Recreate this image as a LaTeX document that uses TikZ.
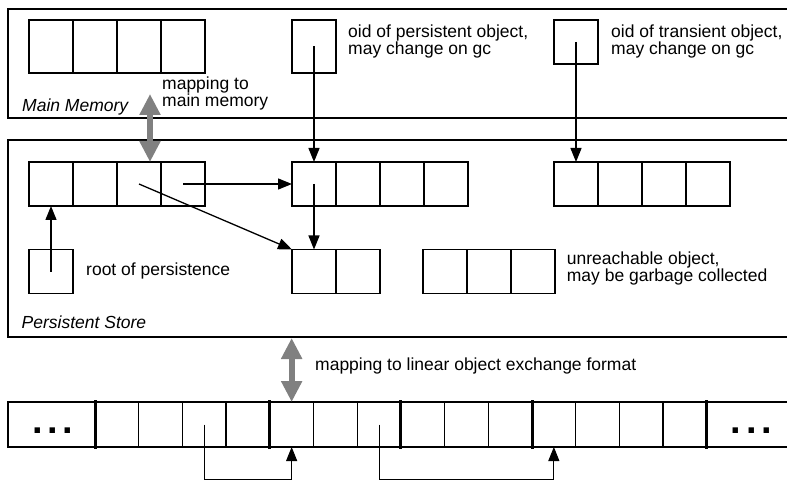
\documentclass[tikz,border=0pt]{standalone}
\usepackage{fontspec}
\setmainfont{Liberation Sans}
\usetikzlibrary{positioning, arrows.meta}

\begin{document}
\begin{tikzpicture}[
x=1pt, y=-1pt,
font=\fontsize{17.5}{17}\selectfont,
frame/.style={draw, line width=1.4pt, anchor=north west, inner sep=0pt, outer sep=0pt},
cell/.style={draw, line width=1.4pt, minimum width=44pt, minimum height=44pt, inner sep=0pt, outer sep=0pt},
tall/.style={cell, minimum height=53pt},
slot/.style={cell, minimum width=43.7pt, minimum height=45pt},
wide/.style={slot, minimum width=87pt},
sep/.style={line width=3pt},
ref/.style={-{Triangle[length=14pt, width=11pt]}, line width=1.3pt},
map/.style={{Triangle[length=21pt, width=20pt]}-{Triangle[length=21pt, width=20pt]}, line width=6pt, gray},
label/.style={anchor=base west, inner sep=0pt},
note/.style={anchor=north west, inner sep=0pt, align=left},
place/.style={label, font=\fontsize{17.5}{17}\selectfont\itshape},
]
\useasboundingbox (0,0) rectangle (787,481);

% Frames
\node[frame, minimum width=800pt, minimum height=109pt] (mem) at (8,9) {};
\node[frame, minimum width=800pt, minimum height=197pt] (store) at (8,140) {};

% Main memory
\node[tall] (mm1) at (51,46.5) {};
\node[tall, right=0pt of mm1] (mm2) {};
\node[tall, right=0pt of mm2] (mm3) {};
\node[tall, right=0pt of mm3] (mm4) {};
\node[tall] (oidp) at (314,46.5) {};
\node[cell] (oidt) at (576,42) {};

% Persistent store
\node[cell] (ps1) at (51,184) {};
\node[cell, right=0pt of ps1] (ps2) {};
\node[cell, right=0pt of ps2] (ps3) {};
\node[cell, right=0pt of ps3] (ps4) {};
\node[cell] (md1) at (314,184) {};
\node[cell, right=0pt of md1] (md2) {};
\node[cell, right=0pt of md2] (md3) {};
\node[cell, right=0pt of md3] (md4) {};
\node[cell] (rt1) at (576,184) {};
\node[cell, right=0pt of rt1] (rt2) {};
\node[cell, right=0pt of rt2] (rt3) {};
\node[cell, right=0pt of rt3] (rt4) {};
\node[cell] (root) at (51,271.5) {};
\node[cell] (tw1) at (314,271.5) {};
\node[cell, right=0pt of tw1] (tw2) {};
\node[cell] (ur1) at (445,271.5) {};
\node[cell, right=0pt of ur1] (ur2) {};
\node[cell, right=0pt of ur2] (ur3) {};

% Exchange format
\node[wide] (st0) at (51.5,424.5) {};
\node[slot, right=0pt of st0] (st1) {};
\node[slot, right=0pt of st1] (st2) {};
\node[slot, right=0pt of st2] (st3) {};
\node[slot, right=0pt of st3] (st4) {};
\node[slot, right=0pt of st4] (st5) {};
\node[slot, right=0pt of st5] (st6) {};
\node[slot, right=0pt of st6] (st7) {};
\node[slot, right=0pt of st7] (st8) {};
\node[slot, right=0pt of st8] (st9) {};
\node[slot, right=0pt of st9] (st10) {};
\node[slot, right=0pt of st10] (st11) {};
\node[slot, right=0pt of st11] (st12) {};
\node[slot, right=0pt of st12] (st13) {};
\node[slot, right=0pt of st13] (st14) {};
\node[wide, right=0pt of st14] (st15) {};
\node[font=\fontsize{38}{38}\selectfont\bfseries, inner sep=0pt] (dotsl) at ([xshift=1.5pt,yshift=-6pt]st0.center) {.\hspace{4.7pt}.\hspace{4.7pt}.};
\node[font=\fontsize{38}{38}\selectfont\bfseries, inner sep=0pt] (dotsr) at ([xshift=1pt,yshift=-6pt]st15.center) {.\hspace{4.7pt}.\hspace{4.7pt}.};
\draw[sep] ([yshift=2pt]st0.north east) -- ([yshift=-2pt]st0.south east);
\draw[sep] ([yshift=2pt]st4.north east) -- ([yshift=-2pt]st4.south east);
\draw[sep] ([yshift=2pt]st7.north east) -- ([yshift=-2pt]st7.south east);
\draw[sep] ([yshift=2pt]st10.north east) -- ([yshift=-2pt]st10.south east);
\draw[sep] ([yshift=2pt]st14.north east) -- ([yshift=-2pt]st14.south east);

% Mappings
\draw[map] ([xshift=11pt,yshift=-21pt]mm3.south) -- ([xshift=11pt]ps3.north);
\draw[map] ([yshift=-1pt]st5.north |- store.south) -- (st5.north);

% References
\draw[ref] (oidp.center) -- (md1.north);
\draw[ref] (oidt.center) -- (rt1.north);
\draw[ref] (ps4.center) -- (md1.west);
\draw[ref] (ps3.center) -- (tw1.north west);
\draw[ref] (md1.center) -- (tw1.north);
\draw[ref] (root.center) -- (ps1.south);
\draw[ref, line width=1pt] (st3.center) -- ++(0,54.5) -| (st5.south);
\draw[ref, line width=1pt] (st7.center) -- ++(0,54.5) -| (st11.south);

% Labels
\node[note] (oidplabel) at (348,25) {oid of persistent object,\\may change on gc};
\node[note] (oidtlabel) at (611,25) {oid of transient object,\\may change on gc};
\node[note] (maplabel) at (162,77) {mapping to\\main memory};
\node[place] (memname) at (22,111.5) {Main Memory};
\node[place] (storename) at (21.5,328.5) {Persistent Store};
\node[label] (rootlabel) at (86,275) {root of persistence};
\node[note] (garbage) at (566.7,251.7) {unreachable object,\\may be garbage collected};
\node[label] (exchange) at (315,370) {mapping to linear object exchange format};

\end{tikzpicture}
\end{document}
